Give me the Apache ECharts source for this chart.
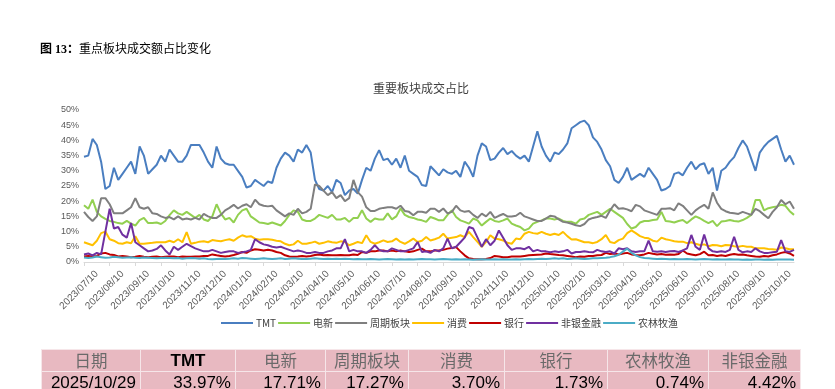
<!DOCTYPE html>
<html>
<head>
<meta charset="utf-8">
<script src="https://cdn.jsdelivr.net/npm/echarts@6/dist/echarts.min.js"></script>
<style>
  html, body { margin: 0; padding: 0; background: #fff; }
  #wrap { position: relative; width: 835px; height: 389px; overflow: hidden; }
  #chart { position: absolute; left: 0; top: 0; width: 835px; height: 389px; }
  #pageTitle { position: absolute; left: 40px; top: 39px; font-size: 12px; color: #000;
    font-family: "Liberation Serif", "Noto Sans CJK SC", serif; white-space: nowrap; }
  #pageTitle b { font-weight: bold; }
  table { position: absolute; left: 41px; top: 349px; border-collapse: collapse; table-layout: fixed; }
  td { background: #E8B9C1; border: 1px solid #f6e6e9; padding: 0 4px; overflow: hidden; white-space: nowrap; }
  tr.h td { height: 21px; text-align: center; font-family: "Noto Sans CJK SC", sans-serif; font-size: 16.5px; color: #6a6a6a; line-height: 21px; }
  tr.h td.lat { font-family: "Liberation Sans", Arial, sans-serif; font-weight: bold; color: #000; font-size: 17px; }
  tr.d td { height: 22px; text-align: right; font-family: "Liberation Sans", Arial, sans-serif; font-size: 17px; color: #000; line-height: 22px; }
</style>
</head>
<body>
<div id="wrap">
  <div id="chart"></div>
  <div id="pageTitle"><b>图 13：</b>重点板块成交额占比变化</div>
  <table id="tbl"></table>
</div>
<script>
const dates = (
"2023/07/10 2023/07/15 2023/07/20 2023/07/25 2023/08/01 2023/08/05 " +
"2023/08/10 2023/08/15 2023/08/20 2023/08/25 2023/09/01 2023/09/05 " +
"2023/09/10 2023/09/15 2023/09/20 2023/09/25 2023/10/01 2023/10/05 " +
"2023/10/10 2023/10/15 2023/10/20 2023/10/25 2023/11/01 2023/11/05 " +
"2023/11/10 2023/11/15 2023/11/20 2023/11/25 2023/12/01 2023/12/05 " +
"2023/12/10 2023/12/15 2023/12/20 2023/12/25 2024/01/01 2024/01/05 " +
"2024/01/10 2024/01/15 2024/01/20 2024/01/25 2024/02/01 2024/02/05 " +
"2024/02/10 2024/02/15 2024/02/20 2024/02/25 2024/03/01 2024/03/05 " +
"2024/03/10 2024/03/15 2024/03/20 2024/03/25 2024/04/01 2024/04/05 " +
"2024/04/10 2024/04/15 2024/04/20 2024/04/25 2024/05/01 2024/05/05 " +
"2024/05/10 2024/05/15 2024/05/20 2024/05/25 2024/06/01 2024/06/05 " +
"2024/06/10 2024/06/15 2024/06/20 2024/06/25 2024/07/01 2024/07/05 " +
"2024/07/10 2024/07/15 2024/07/20 2024/07/25 2024/08/01 2024/08/05 " +
"2024/08/10 2024/08/15 2024/08/20 2024/08/25 2024/09/01 2024/09/05 " +
"2024/09/10 2024/09/15 2024/09/20 2024/09/25 2024/10/01 2024/10/05 " +
"2024/10/10 2024/10/15 2024/10/20 2024/10/25 2024/11/01 2024/11/05 " +
"2024/11/10 2024/11/15 2024/11/20 2024/11/25 2024/12/01 2024/12/05 " +
"2024/12/10 2024/12/15 2024/12/20 2024/12/25 2025/01/01 2025/01/05 " +
"2025/01/10 2025/01/15 2025/01/20 2025/01/25 2025/02/01 2025/02/05 " +
"2025/02/10 2025/02/15 2025/02/20 2025/02/25 2025/03/01 2025/03/05 " +
"2025/03/10 2025/03/15 2025/03/20 2025/03/25 2025/04/01 2025/04/05 " +
"2025/04/10 2025/04/15 2025/04/20 2025/04/25 2025/05/01 2025/05/05 " +
"2025/05/10 2025/05/15 2025/05/20 2025/05/25 2025/06/01 2025/06/05 " +
"2025/06/10 2025/06/15 2025/06/20 2025/06/25 2025/07/01 2025/07/05 " +
"2025/07/10 2025/07/15 2025/07/20 2025/07/25 2025/08/01 2025/08/05 " +
"2025/08/10 2025/08/15 2025/08/20 2025/08/25 2025/09/01 2025/09/05 " +
"2025/09/10 2025/09/15 2025/09/20 2025/09/25 2025/10/01 2025/10/05 " +
"2025/10/10 2025/10/15 2025/10/20 2025/10/24 2025/10/29").split(" ");

const tmt = [
34.6, 35, 40.5, 38.5, 33, 24, 25, 31, 27, 29,
31, 33, 29, 38, 35, 29, 30.5, 32, 35, 33,
37, 35, 33, 33, 35, 38.5, 38.5, 38.5, 36, 33,
31, 38, 34, 32.5, 32, 32, 30, 28, 24.5, 25,
27, 26, 25, 26.5, 26, 31, 34, 36, 35, 33,
37, 36, 38.5, 36, 27, 24, 23.5, 25, 23, 27,
26, 22, 23.5, 24, 22.5, 27, 31, 30, 34, 36.8,
33.5, 34, 32, 34, 31, 35, 30, 29, 28, 25.3,
25, 31.5, 30, 28.5, 30.5, 29.5, 29, 30, 28, 33,
31, 28, 35, 39, 38, 33.5, 34, 36, 37.5, 35.5,
36.5, 35, 34, 35, 33, 38, 43, 38, 35, 33,
36, 35.5, 37, 39, 44, 45, 46, 46.5, 45, 41,
39.5, 37, 33.5, 31.5, 27, 26, 28, 31, 27, 28,
29, 28, 31, 29, 27, 23.5, 24, 25, 29, 29.5,
28.5, 31, 33, 30.5, 32, 32.5, 29, 31, 23.5, 30,
31, 33, 34.5, 37.5, 40, 38, 34, 30, 36, 38,
39.5, 40.5, 41.5, 37, 33, 35, 32];

const dianxin = [
18.7, 17.5, 20.5, 16.5, 15, 14.2, 13.5, 13.2, 12.8, 12.6,
13.5, 12.6, 12, 13.8, 14.5, 12.8, 12.8, 13, 12.5, 13.5,
15.4, 17, 16, 15.5, 16.5, 15.5, 14.5, 15.5, 14, 13.5,
15, 19, 16, 14, 14.5, 13, 15.5, 17, 17.5, 15,
14, 13, 12.8, 12.5, 13, 12.5, 12, 13.5, 15.5, 17,
16.5, 14, 13.5, 13.5, 14.3, 15.5, 15, 14.5, 15.5, 14,
14, 14.5, 13.2, 14.5, 14.5, 17, 14.3, 13.2, 14.3, 14,
14, 16, 14, 15, 17.6, 15.5, 14.8, 14.5, 14, 13.7,
13.2, 14.8, 14.3, 13.7, 13.7, 15.5, 17, 14.8, 13.7, 13.2,
12.6, 14.3, 13.7, 12, 13.2, 14.3, 13.5, 13.2, 13.7, 14.3,
12.6, 12, 11.5, 10.4, 11, 12.6, 13.2, 13.7, 14.3, 14.3,
14, 14.3, 13.5, 13.2, 13.2, 12.6, 14, 14.3, 15.5, 16,
16.5, 15.5, 16.5, 17.5, 16.5, 15.5, 14.5, 12.5, 11, 11.5,
13, 13.5, 13.5, 13.8, 14, 16.5, 13.5, 13.3, 13, 13.5,
13.8, 12.8, 14, 15, 14.4, 13.5, 12.8, 13.5, 11.8, 13.3,
13.5, 13.8, 13.5, 13.3, 13.8, 14.5, 15.5, 20.4, 20.4, 17,
17.7, 18, 18.3, 18.8, 18.5, 16.7, 15.5];

const zhouqi = [
16.5, 14.8, 13.5, 15, 21, 21, 19, 16, 16, 16,
17, 18, 21, 18, 17.5, 18, 16, 15.8, 15, 14.5,
14.8, 14, 15, 14, 14.3, 14, 14.5, 14, 15.8, 15,
14.5, 14.5, 15.5, 17, 17.8, 18.8, 17.6, 18.5, 19, 18,
20.5, 19, 18.5, 18.3, 18.5, 17, 16, 15, 16, 15.5,
17.5, 16, 16.5, 17.5, 25.5, 25, 23.5, 22, 23, 21,
22, 20, 21, 27, 23, 21.5, 18, 16.8, 16.8, 17.5,
17.8, 18, 18, 17.5, 18.5, 16.8, 16.5, 15.4, 16.5, 16.5,
16.2, 17.5, 17.5, 16.5, 17.6, 16, 16.5, 18.5, 17, 16.5,
16.8, 15.5, 14.5, 15.9, 15, 16.5, 14.5, 15.2, 15.8, 15,
15, 15.2, 16.2, 15, 14.5, 14, 13.5, 13.5, 14.3, 15.2,
15, 14, 13.2, 13, 12.6, 12.1, 11.8, 12.5, 14, 14.5,
14.8, 15.2, 14.5, 17, 19, 17.5, 17.7, 17.3, 16.7, 18.8,
18.3, 17, 16.5, 16, 15.5, 17.5, 17.5, 17.7, 17, 19.3,
18.5, 17, 15.5, 17, 18, 18.8, 17.5, 22.9, 19.5, 17.5,
16.7, 16.2, 16, 15.8, 16.5, 16, 15.5, 17.5, 16.7, 15.5,
14.4, 16.5, 18, 20.4, 19, 19.9, 17.5];

const xiaofei = [
6.5, 6, 5.5, 7, 9.5, 10, 7.5, 7, 6.2, 6,
6.5, 6.2, 8.5, 6, 6, 6.2, 6.3, 6.5, 6.5, 6.5,
7, 6.5, 7.5, 6.5, 9.8, 6, 6.3, 6.7, 6.8, 6.5,
7.2, 7, 6.8, 7.2, 7.5, 7, 8, 8.8, 8.3, 8.5,
7.7, 7.3, 7.5, 7.5, 7.3, 7, 6.8, 6, 5.5, 5.8,
7, 6, 6, 6.3, 6.7, 6, 6.3, 6.8, 6.5, 6.3,
6.8, 6.6, 5.5, 6, 6.6, 6.2, 8.8, 6.6, 6, 6.5,
7.1, 6.6, 6.8, 7.7, 6.6, 6, 6.8, 7.7, 6.6, 7,
8.2, 7.1, 7.5, 8, 9.3, 7.7, 8, 8.2, 8.8, 8.2,
9.9, 8.2, 6.6, 5, 6.6, 8.8, 7.7, 7.5, 7.1, 6.3,
6, 7.7, 7.5, 9.3, 9.9, 9.5, 9.3, 9.9, 9.3, 8.9,
9.3, 8.9, 9.9, 8.5, 7.4, 7.5, 7, 6.5, 6.5, 6.2,
6.6, 7.5, 8.9, 6.6, 6.2, 7.2, 7.7, 9.5, 10.4, 9.5,
8.5, 8, 7.8, 7, 6.7, 8, 7.5, 7.2, 6.8, 6.7,
6.7, 6.2, 6.5, 6, 5.6, 5.8, 5.2, 5.6, 5.5, 5.2,
5.6, 5.5, 5.2, 5, 5.3, 5, 5, 4.5, 4.5, 4.5,
4.3, 4.2, 4, 4.8, 4.5, 4.2, 4.2];

const yinhang = [
1.8, 2, 1.8, 2, 2.8, 3, 2.5, 2.3, 1.8, 2,
1.8, 1.6, 1.7, 2, 1.7, 1.6, 1.7, 1.8, 1.6, 1.7,
1.8, 1.8, 1.6, 1.8, 1.7, 1.7, 1.8, 1.8, 2, 2,
2.5, 2.2, 2, 1.8, 2, 2.3, 2.7, 3.3, 3, 3.8,
4.2, 4, 3.8, 4, 3.8, 3.3, 3, 2.2, 1.8, 1.7,
1.8, 2, 1.8, 2, 2.3, 2.5, 2.2, 2.3, 2.2, 2.2,
2.3, 2.2, 2.2, 2.5, 2.3, 3.3, 3, 3.5, 3.5, 3.8,
3.8, 3.5, 3.8, 3.5, 3.8, 3.5, 3.3, 3.5, 4, 4.4,
3.5, 3.5, 3.8, 3.8, 4, 4.4, 4.6, 4.9, 3.5, 2.2,
1.2, 1, 0.9, 0.9, 1, 1.3, 2, 1.8, 1.6, 1.6,
1.8, 1.8, 1.8, 2, 2.2, 2.3, 2.4, 2.5, 2.8, 2.6,
2.5, 2.3, 2.2, 2, 1.8, 1.6, 1.8, 1.7, 2, 2,
2.2, 2.3, 3, 2.6, 2.8, 2.5, 2.8, 3, 2.5, 2.3,
2.2, 2.5, 3, 2.7, 2.5, 2.6, 2.4, 2.5, 2.4, 2.6,
3.8, 2.8, 2.5, 2.2, 2.6, 3.4, 2.2, 2.3, 2, 2.2,
2, 2.4, 2.6, 2.4, 2.5, 2.2, 2, 1.8, 1.7, 2,
1.8, 2.2, 2.5, 3, 3.3, 2.8, 2];

const feiyin = [
2.5, 2.8, 2.2, 3, 2.5, 10, 17.5, 11, 11.5, 9,
8, 12.8, 6.5, 5.5, 4.5, 3.5, 3.8, 4.3, 5.5, 3.8,
2.5, 5, 4, 5, 6, 5.2, 4.5, 4, 3.5, 3.5,
4, 3.5, 3, 3.3, 3.5, 3.5, 3, 3.2, 3.5, 4,
7.5, 6.5, 5.8, 5.5, 5, 4.8, 5, 4.5, 4, 3.5,
3.8, 3.5, 3, 3, 3.3, 3, 3, 3.5, 3.8, 4.5,
4.5, 7.5, 3.5, 4, 3.5, 3.5, 3, 4, 5.5, 4,
3.5, 3.5, 4.5, 4, 3.5, 3.5, 4, 4.5, 6.6, 3.3,
3.5, 3, 4, 3.5, 4.5, 7.7, 4.5, 5, 6.5, 8,
11.5, 11, 8, 5, 7.5, 5.5, 7, 10.4, 8, 5.5,
4, 4.5, 4.5, 4.2, 5, 3.5, 4, 3.5, 3.5, 3.2,
3.5, 3.3, 3.5, 4, 2.8, 3.3, 3.3, 3.5, 3.3, 3.2,
4, 3.5, 3.3, 3.5, 2.8, 4.5, 4.2, 4.5, 3.5, 3.3,
3.5, 3.5, 7, 3.5, 3.4, 3.5, 3.3, 3.5, 3.6, 3.3,
3.8, 4.5, 8.9, 5, 4, 9, 4.5, 3.5, 3.3, 3.5,
3.3, 4, 8.3, 4, 3.2, 3.5, 3.3, 4.5, 3.5, 3,
3, 3.2, 3.4, 7.2, 3.5, 3.3, 4];

const nonglin = [
1.5, 1.3, 1.5, 1.8, 1.6, 1.4, 1.5, 1.7, 1.6, 1.4,
1.5, 1.6, 1.4, 1.3, 1.5, 1.4, 1.3, 1.2, 1.3, 1.4,
1.3, 1.2, 1.3, 1.1, 1.2, 1.3, 1.2, 1.1, 1.2, 1.0,
0.9, 1.0, 1.1, 1.0, 1.1, 1.2, 1.1, 1.3, 1.2, 1.1,
1.0, 1.1, 1.2, 1.1, 1.0, 1.1, 1.2, 1.0, 1.1, 1.2,
1.1, 1.0, 1.0, 1.1, 1.2, 1.1, 1.0, 1.1, 1.0, 1.1,
1.0, 1.1, 1.0, 0.9, 1.0, 0.9, 0.9, 1.0, 0.9, 0.8,
0.9, 1.0, 0.9, 0.8, 0.9, 0.8, 0.9, 0.8, 0.9, 1.0,
0.9, 0.9, 0.8, 0.9, 1.0, 0.9, 0.8, 0.9, 0.8, 0.9,
0.8, 0.7, 0.8, 0.9, 0.8, 0.8, 0.9, 0.8, 0.9, 0.8,
0.8, 0.9, 0.8, 0.9, 1.0, 0.9, 1.0, 1.1, 1.0, 1.1,
1.2, 1.1, 1.2, 1.0, 1.1, 1.2, 1.1, 1.0, 1.1, 1.2,
1.2, 1.3, 1.4, 1.6, 1.9, 2.4, 3.4, 4.4, 3.0, 2.2,
1.6, 1.3, 1.2, 1.1, 1.0, 1.1, 1.0, 0.9, 1.0, 0.9,
0.9, 1.0, 0.9, 0.8, 0.9, 1.0, 0.9, 0.8, 0.9, 0.8,
0.8, 0.9, 0.8, 0.8, 0.7, 0.8, 0.7, 0.8, 0.8, 0.7,
0.8, 0.7, 0.8, 0.8, 0.8, 0.8, 0.7];

const seriesNames = ['TMT', '电新', '周期板块', '消费', '银行', '非银金融', '农林牧渔'];
const seriesColors = ['#4A7EC0', '#92D050', '#7F7F7F', '#FFC000', '#C00000', '#7030A0', '#4BACC6'];
const seriesData = [tmt, dianxin, zhouqi, xiaofei, yinhang, feiyin, nonglin];

const yTicks = { min: 0, max: 50, step: 5 };

const tableHeaders = ['日期', 'TMT', '电新', '周期板块', '消费', '银行', '农林牧渔', '非银金融'];
const tableValues = ['2025/10/29', '33.97%', '17.71%', '17.27%', '3.70%', '1.73%', '0.74%', '4.42%'];

// table
const colW = [99, 95, 90, 83, 96, 103, 101, 92];
const tbl = document.getElementById('tbl');
let html = '<colgroup>' + colW.map(w => '<col style="width:' + w + 'px">').join('') + '</colgroup>';
html += '<tr class="h">' + tableHeaders.map(h => '<td' + (/^[A-Za-z]+$/.test(h) ? ' class="lat"' : '') + '>' + h + '</td>').join('') + '</tr>';
html += '<tr class="d">' + tableValues.map(v => '<td>' + v + '</td>').join('') + '</tr>';
tbl.innerHTML = html;
tbl.style.width = colW.reduce((a, b) => a + b, 0) + 'px';

const chart = echarts.init(document.getElementById('chart'), null, { renderer: 'canvas' });
const fontLat = '"Liberation Sans", Arial, sans-serif';
const option = {
  animation: false,
  backgroundColor: 'transparent',
  title: {
    text: '重要板块成交占比',
    left: 421, top: 82, textAlign: 'center', padding: 0,
    textStyle: { fontSize: 12, fontWeight: 'normal', color: '#404040', fontFamily: '"Noto Sans CJK SC", sans-serif' }
  },
  legend: {
    left: 221, top: 318, padding: 0,
    icon: 'rect',
    itemWidth: 32, itemHeight: 2, itemGap: 2,
    textStyle: { fontSize: 10, color: '#404040', fontFamily: '"Noto Sans CJK SC", sans-serif', padding: [0, 0, 0, -2] },
    data: seriesNames
  },
  grid: { left: 84, right: 41, top: 110, bottom: 127, containLabel: false },
  xAxis: {
    type: 'category',
    data: dates,
    boundaryGap: false,
    axisLine: { lineStyle: { color: '#d9d9d9', width: 1 } },
    axisTick: { length: 4, lineStyle: { color: '#d9d9d9' } },
    axisLabel: {
      interval: (idx) => idx % 6 === 0,
      rotate: 45, align: 'right', verticalAlign: 'top',
      padding: [0, -13, 0, 0],
      fontSize: 10, color: '#595959', margin: 16, fontFamily: fontLat
    },
    splitLine: { show: false }
  },
  yAxis: {
    type: 'value',
    min: yTicks.min, max: yTicks.max, interval: yTicks.step,
    axisLine: { show: false }, axisTick: { show: false },
    splitLine: { show: false },
    axisLabel: { formatter: '{value}%', fontSize: 9, color: '#595959', margin: 5, fontFamily: fontLat }
  },
  series: seriesNames.map((n, k) => ({
    name: n, type: 'line', data: seriesData[k],
    symbol: 'none', smooth: false,
    lineStyle: { width: 2, color: seriesColors[k] },
    itemStyle: { color: seriesColors[k] }
  }))
};
chart.setOption(option);
</script>
</body>
</html>
